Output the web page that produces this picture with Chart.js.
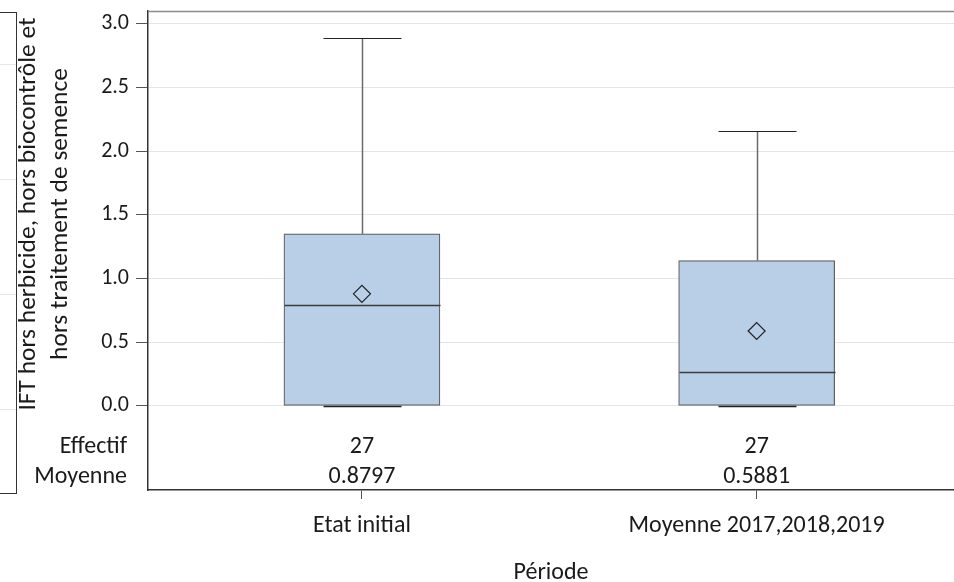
<!DOCTYPE html>
<html>
<head>
<meta charset="utf-8">
<title>IFT par période</title>
<script src="https://cdn.jsdelivr.net/npm/chart.js"></script>
<style>
    body { margin: 0; background: #fff; }
    #wrap { position: relative; width: 954px; height: 582px; }
    #boxChart { display: block; }
    .side { position: absolute; left: 0; top: 12px; width: 16px; height: 480px; border: 1px solid #333; border-left: none; }
    .side div { position: absolute; left: 0; width: 16px; height: 1px; background: #e3e9e9; }
</style>
</head>
<body>
<div id="wrap">
    <canvas id="boxChart" width="954" height="582"></canvas>
    <!-- edge of the neighbouring chart, cropped in the original -->
    <div class="side"><div style="top:51px"></div><div style="top:166px"></div><div style="top:281px"></div><div style="top:396px"></div></div>
</div>

<script>
    const categories = ['Etat initial', 'Moyenne 2017,2018,2019'];
    const minVals = [0, 0];
    const q1Vals = [0, 0];
    const medianVals = [0.79, 0.27];
    const q3Vals = [1.35, 1.14];
    const maxVals = [2.89, 2.16];
    const meanVals = [0.8797, 0.5881];
    const counts = [27, 27];
    const yTicks = [0, 0.5, 1, 1.5, 2, 2.5, 3];
    const yTitle = ['IFT hors herbicide, hors biocontrôle et', 'hors traitement de semence'];
    const xTitle = 'Période';
    const rowLabels = ['Effectif', 'Moyenne'];

    const FONT = 'Carlito, Lato, "Noto Sans", sans-serif';
    const TEXT = '#1a1a1a';

    function line(ctx, x1, y1, x2, y2, color, width) {
        ctx.beginPath();
        ctx.strokeStyle = color;
        ctx.lineWidth = width;
        ctx.moveTo(x1, y1);
        ctx.lineTo(x2, y2);
        ctx.stroke();
    }

    // whiskers, caps, medians + the stats table and titles
    const boxParts = {
        id: 'boxParts',
        beforeDatasetsDraw(chart) {
            const { ctx, chartArea } = chart;
            line(ctx, chartArea.left, chartArea.top + 0.5, chartArea.right, chartArea.top + 0.5, '#8a8a8a', 1.5);
        },
        afterDatasetsDraw(chart) {
            const { ctx, scales: { x, y } } = chart;
            ctx.save();
            categories.forEach((c, i) => {
                const cx = Math.round(x.getPixelForValue(i + 1)) + 0.5;
                const half = 39;
                const boxHalf = 78;
                const yMax = Math.round(y.getPixelForValue(maxVals[i])) + 0.5;
                const yQ3 = y.getPixelForValue(q3Vals[i]);
                const yMed = Math.round(y.getPixelForValue(medianVals[i])) + 0.5;
                const yMin = Math.round(y.getPixelForValue(minVals[i])) + 0.5;
                const yQ1 = y.getPixelForValue(q1Vals[i]);
                line(ctx, cx, yQ3, cx, yMax, '#6a6a6a', 1.5);
                line(ctx, cx - half, yMax, cx + half, yMax, '#222', 1.2);
                if (yQ1 < yMin - 1) line(ctx, cx, yQ1, cx, yMin, '#6a6a6a', 1.5);
                line(ctx, cx - half, yMin, cx + half, yMin, '#222', 1.5);
                line(ctx, cx - boxHalf, yMed, cx + boxHalf, yMed, '#3c3c3c', 1.5);
            });
            ctx.restore();
        },
        afterDraw(chart) {
            const { ctx, chartArea, scales: { x } } = chart;
            ctx.save();
            ctx.fillStyle = TEXT;
            ctx.font = '24px ' + FONT;
            ctx.textBaseline = 'alphabetic';
            const rowY = [chartArea.bottom - 37, chartArea.bottom - 7];
            ctx.textAlign = 'right';
            rowLabels.forEach((l, r) => ctx.fillText(l, 127, rowY[r]));
            ctx.textAlign = 'center';
            categories.forEach((c, i) => {
                const cx = x.getPixelForValue(i + 1);
                ctx.fillText(String(counts[i]), cx, rowY[0]);
                ctx.fillText(meanVals[i].toFixed(4), cx, rowY[1]);
            });

            ctx.fillText(xTitle, (chartArea.left + chartArea.right) / 2, 579);

            ctx.font = '25.5px ' + FONT;
            ctx.translate(0, 214);
            ctx.rotate(-Math.PI / 2);
            ctx.fillText(yTitle[0], 0, 35);
            ctx.fillText(yTitle[1], 0, 67);
            ctx.restore();
        }
    };

    const ctx = document.getElementById('boxChart').getContext('2d');
    new Chart(ctx, {
        type: 'scatter',
        data: {
            datasets: [
                {
                    type: 'bar',
                    data: categories.map((c, i) => ({ x: i + 1, y: [q1Vals[i], q3Vals[i]] })),
                    backgroundColor: '#b9cee7',
                    borderColor: '#5e5e5e',
                    borderWidth: 1.2,
                    borderSkipped: false,
                    barThickness: 156,
                    order: 2
                },
                {
                    type: 'scatter',
                    data: categories.map((c, i) => ({ x: i + 1, y: meanVals[i] })),
                    pointStyle: 'rectRot',
                    pointRadius: 8.5,
                    pointBorderColor: '#222',
                    pointBackgroundColor: 'rgba(0,0,0,0)',
                    pointBorderWidth: 1.2,
                    order: 1
                }
            ]
        },
        options: {
            responsive: false,
            animation: false,
            layout: { autoPadding: false, padding: { top: 11, right: 0, left: 0, bottom: 0 } },
            plugins: { legend: { display: false }, tooltip: { enabled: false } },
            scales: {
                x: {
                    type: 'linear',
                    offset: false,
                    min: 0.458,
                    max: 2.5,
                    afterBuildTicks: s => { s.ticks = categories.map((c, i) => ({ value: i + 1 })); },
                    afterFit: s => { s.height = 92; s.paddingLeft = 0; s.paddingRight = 0; },
                    ticks: {
                        callback: v => categories[Math.round(v) - 1],
                        font: { family: FONT, size: 24 },
                        color: TEXT,
                        padding: 13,
                        maxRotation: 0
                    },
                    grid: { offset: false, drawOnChartArea: false, tickColor: '#555', tickLength: 9 },
                    border: { color: '#333', width: 1.5 }
                },
                y: {
                    min: -0.66,
                    max: 3.1,
                    afterBuildTicks: s => { s.ticks = yTicks.map(v => ({ value: v })); },
                    afterFit: s => { s.width = 148; s.paddingTop = 0; s.paddingBottom = 0; },
                    ticks: {
                        callback: v => v.toFixed(1),
                        font: { family: FONT, size: 22 },
                        color: TEXT,
                        padding: 7
                    },
                    grid: { color: '#e0e7e7', tickColor: '#555', tickLength: 12 },
                    border: { color: '#333', width: 1.5 }
                }
            }
        },
        plugins: [boxParts]
    });
</script>
</body>
</html>
